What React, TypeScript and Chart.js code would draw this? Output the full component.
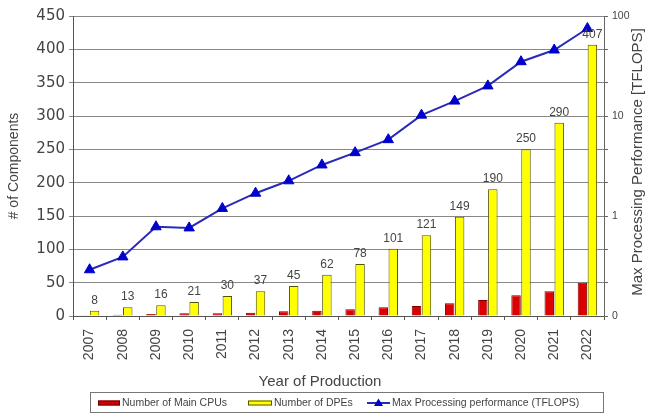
import React, { useEffect, useRef } from 'react';
import { Chart, registerables } from 'chart.js';

Chart.register(...registerables);

const years = ['2007', '2008', '2009', '2010', '2011', '2012', '2013', '2014', '2015', '2016', '2017', '2018', '2019', '2020', '2021', '2022'];
const mainCpus = [1, 2, 3, 4, 4, 5, 7, 8, 10, 13, 15, 19, 24, 31, 37, 50];
const dpes = [8, 13, 16, 21, 30, 37, 45, 62, 78, 101, 121, 149, 190, 250, 290, 407];
const tflops = [0.29, 0.39, 0.78, 0.76, 1.19, 1.69, 2.25, 3.24, 4.3, 5.8, 10.2, 14.1, 20, 34.9, 45.7, 75];

const leftMax = 450;
const leftStep = 50;
const rightTickValues = [0.1, 0.2154, 0.4642, 1, 2.154, 4.642, 10, 21.54, 46.42, 100];
const rightTickLabels: Record<string, string> = { '0.1': '0', '1': '1', '10': '10', '100': '100' };

const titleLeft = '# of Components';
const titleRight = 'Max Processing Performance [TFLOPS]';
const titleX = 'Year of Production';
const legendLabels = ['Number of Main CPUs', 'Number of DPEs', 'Max Processing performance (TFLOPS)'];

const FONT = '"Liberation Sans", Arial, sans-serif';
const TEXT = '#444';

const customPlugin = {
  id: 'customDecor',
  afterDatasetsDraw(chart: any) {
    const ctx = chart.ctx;
    const meta = chart.getDatasetMeta(2);
    ctx.save();
    ctx.font = `12px ${FONT}`;
    ctx.fillStyle = '#444';
    ctx.textAlign = 'center';
    ctx.textBaseline = 'alphabetic';
    meta.data.forEach((bar: any, i: number) => {
      ctx.fillText(String(dpes[i]), bar.x, bar.y - 7);
    });
    ctx.restore();
  },
  afterDraw(chart: any) {
    const ctx = chart.ctx;
    const area = chart.chartArea;
    const midY = (area.top + area.bottom) / 2;
    ctx.save();
    ctx.fillStyle = TEXT;
    ctx.textAlign = 'center';
    ctx.textBaseline = 'middle';

    // x title
    ctx.font = `15px ${FONT}`;
    ctx.fillText(titleX, 320, 382);

    // left title
    ctx.save();
    ctx.translate(14, midY);
    ctx.rotate(-Math.PI / 2);
    ctx.font = `14px ${FONT}`;
    ctx.fillText(titleLeft, 0, 0);
    ctx.restore();

    // right title
    ctx.save();
    ctx.translate(638, midY - 4);
    ctx.rotate(-Math.PI / 2);
    ctx.font = `15px ${FONT}`;
    ctx.fillText(titleRight, 0, 0);
    ctx.restore();

    // legend
    ctx.strokeStyle = '#777';
    ctx.lineWidth = 1;
    ctx.strokeRect(90.5, 392.5, 513, 20);
    const ly = 403;
    ctx.font = `10.5px ${FONT}`;
    ctx.textAlign = 'left';
    ctx.textBaseline = 'middle';

    ctx.fillStyle = '#d00000';
    ctx.fillRect(98, ly - 2.5, 22, 5);
    ctx.strokeStyle = '#700000';
    ctx.strokeRect(98.5, ly - 2, 21, 4);
    ctx.fillStyle = TEXT;
    ctx.fillText(legendLabels[0], 122, ly + 0.5);

    ctx.fillStyle = '#ffff00';
    ctx.fillRect(248, ly - 2.5, 24, 5);
    ctx.strokeStyle = '#555500';
    ctx.strokeRect(248.5, ly - 2, 23, 4);
    ctx.fillStyle = TEXT;
    ctx.fillText(legendLabels[1], 274, ly + 0.5);

    ctx.strokeStyle = '#2a2ab8';
    ctx.lineWidth = 2;
    ctx.beginPath();
    ctx.moveTo(367, ly);
    ctx.lineTo(390, ly);
    ctx.stroke();
    ctx.fillStyle = '#0000cc';
    ctx.beginPath();
    ctx.moveTo(378.5, ly - 4.5);
    ctx.lineTo(383, ly + 3);
    ctx.lineTo(374, ly + 3);
    ctx.closePath();
    ctx.fill();
    ctx.fillStyle = TEXT;
    ctx.fillText(legendLabels[2], 392, ly + 0.5);

    ctx.restore();
  },
};

export default function App() {
  const canvasRef = useRef<HTMLCanvasElement | null>(null);

  useEffect(() => {
    if (!canvasRef.current) return;
    const chart = new Chart(canvasRef.current, {
      type: 'bar',
      data: {
        labels: years,
        datasets: [
          {
            type: 'line',
            label: legendLabels[2],
            data: tflops,
            yAxisID: 'y1',
            borderColor: '#2a2ab8',
            borderWidth: 2,
            backgroundColor: '#0000cc',
            pointStyle: 'triangle',
            pointRadius: 6,
            pointBackgroundColor: '#0000cc',
            pointBorderColor: '#0000cc',
            pointBorderWidth: 1,
            tension: 0,
            order: 0,
          } as any,
          {
            label: legendLabels[0],
            data: mainCpus,
            yAxisID: 'y',
            backgroundColor: '#dd0000',
            borderColor: '#800000',
            borderWidth: 1,
            categoryPercentage: 0.6,
            barPercentage: 0.95,
            order: 1,
          },
          {
            label: legendLabels[1],
            data: dpes,
            yAxisID: 'y',
            backgroundColor: '#ffff00',
            borderColor: '#555500',
            borderWidth: 1,
            categoryPercentage: 0.6,
            barPercentage: 0.95,
            order: 1,
          },
        ],
      },
      options: {
        responsive: false,
        animation: false,
        layout: { padding: { top: 16, left: 0, right: 0, bottom: 0 } },
        plugins: {
          legend: { display: false },
          tooltip: { enabled: false },
        },
        scales: {
          x: {
            type: 'category',
            offset: true,
            grid: { display: true, drawOnChartArea: false, offset: true, tickLength: 4, color: '#555' },
            border: { color: '#555' },
            ticks: {
              minRotation: 90,
              maxRotation: 90,
              autoSkip: false,
              padding: 9,
              color: TEXT,
              font: { family: 'Liberation Sans', size: 14 },
            },
            afterFit: (s: any) => {
              s.height = 99;
            },
          },
          y: {
            position: 'left',
            min: 0,
            max: leftMax,
            grid: { color: '#888', tickLength: 4 },
            border: { color: '#555' },
            ticks: {
              stepSize: leftStep,
              padding: 4,
              color: TEXT,
              font: { family: 'DejaVu Sans', size: 15 },
            },
            afterFit: (s: any) => {
              s.width = 73;
            },
          },
          y1: {
            type: 'logarithmic',
            position: 'right',
            min: 0.1,
            max: 100,
            grid: { drawOnChartArea: false, tickLength: 4, color: '#666' },
            border: { color: '#666' },
            afterBuildTicks: (s: any) => {
              s.ticks = rightTickValues.map((v) => ({ value: v }));
            },
            ticks: {
              autoSkip: false,
              padding: 4,
              color: TEXT,
              font: { family: 'Liberation Sans', size: 10.5 },
              callback: (v: any) => rightTickLabels[String(v)] ?? '',
            },
            afterFit: (s: any) => {
              s.width = 43;
            },
          },
        },
      },
      plugins: [customPlugin],
    });
    return () => chart.destroy();
  }, []);

  return (
    <div style={{ position: 'fixed', left: 0, top: 0, width: 647, height: 415, background: '#fff' }}>
      <canvas ref={canvasRef} width={647} height={415} />
    </div>
  );
}
